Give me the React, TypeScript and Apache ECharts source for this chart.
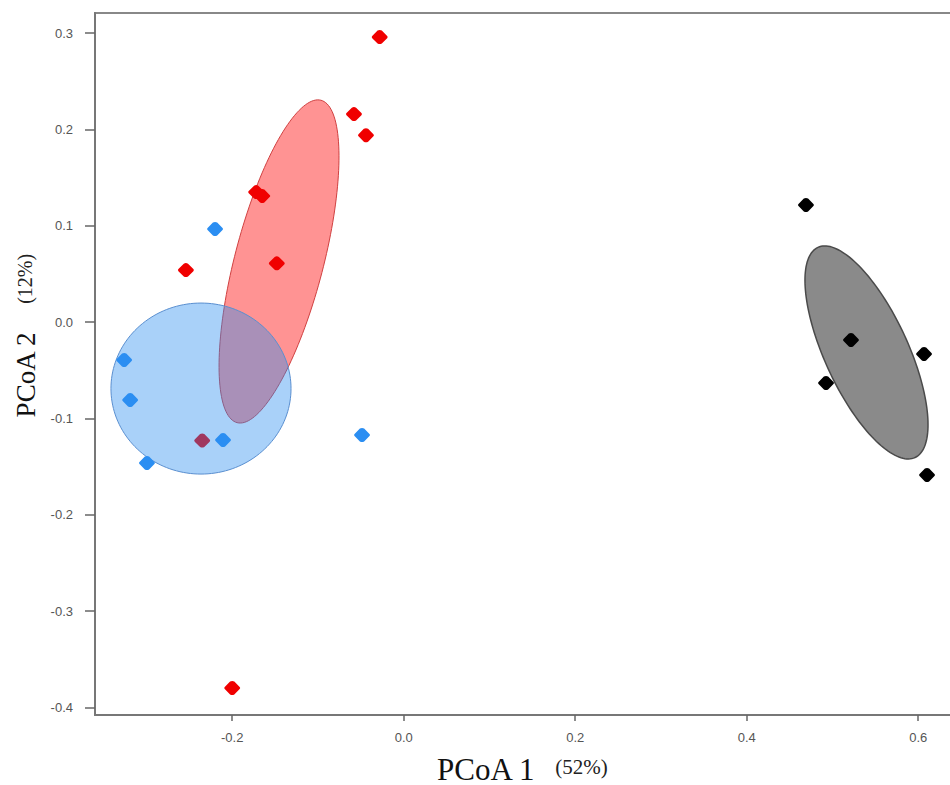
import React, { useEffect, useRef } from "react";
import * as echarts from "echarts";

// ---- data ----
const redX = [-0.028, -0.058, -0.044, -0.172, -0.165, -0.148, -0.254, -0.2, -0.235];
const redY = [0.296, 0.216, 0.194, 0.135, 0.131, 0.061, 0.054, -0.38, -0.123];
const blueX = [-0.22, -0.326, -0.319, -0.2107, -0.2994, -0.0486];
const blueY = [0.0967, -0.0393, -0.0809, -0.1224, -0.1463, -0.1172];
const blackX = [0.4691, 0.5216, 0.6068, 0.4925, 0.6103];
const blackY = [0.1216, -0.0186, -0.0331, -0.0632, -0.1588];

// ellipses: [centerX, centerY, semiAxisU_x, semiAxisU_y, semiAxisV_x, semiAxisV_y] in data units
const redEllipse = [-0.1454, 0.063, 0.0489, 0.1674, 0.05, -0.0116];
const blueEllipse = [-0.2364, -0.069, 0.105, 0, 0, 0.0888];
const grayEllipse = [0.5397, -0.0315, 0.0566, -0.1091, 0.0441, 0.0181];

const xTicks = [-0.2, 0.0, 0.2, 0.4, 0.6];
const yTicks = [-0.4, -0.3, -0.2, -0.1, 0.0, 0.1, 0.2, 0.3];

const xTitle = "PCoA 1";
const xPct = "(52%)";
const yTitle = "PCoA 2";
const yPct = "(12%)";

const SYMBOL =
  "path://M-2,-6 Q0,-7 2,-6 L7,-1 Q8,0 7,1 L2,6 Q0,7 -2,6 L-7,1 Q-8,0 -7,-1 Z";

function zip(xs: number[], ys: number[]) {
  return xs.map((x, i) => [x, ys[i]]);
}

function ellipseSeries(params: number[], fill: string, stroke: string, lw: number, z: number) {
  return {
    type: "custom",
    z,
    data: [params],
    encode: { x: 0, y: 1 },
    silent: true,
    renderItem: (_p: any, api: any) => {
      const cx = api.value(0), cy = api.value(1);
      const ux = api.value(2), uy = api.value(3);
      const vx = api.value(4), vy = api.value(5);
      const pts: number[][] = [];
      const N = 160;
      for (let i = 0; i < N; i++) {
        const t = (i / N) * Math.PI * 2;
        const c = Math.cos(t), s = Math.sin(t);
        pts.push(api.coord([cx + ux * c + vx * s, cy + uy * c + vy * s]));
      }
      return {
        type: "polygon",
        shape: { points: pts },
        style: { fill, stroke, lineWidth: lw },
      };
    },
  };
}

function pointSeries(xs: number[], ys: number[], color: string, z: number) {
  return {
    type: "scatter",
    z,
    data: zip(xs, ys),
    symbol: SYMBOL,
    symbolSize: [16, 14],
    itemStyle: { color, opacity: 1 },
  };
}

export default function App() {
  const ref = useRef<HTMLDivElement>(null);
  useEffect(() => {
    if (!ref.current) return;
    const chart = echarts.init(ref.current, null, { renderer: "svg" });
    const axisColor = "#777";
    const labelStyle = {
      color: "#555",
      fontSize: 13,
      fontFamily: "Liberation Sans, Arial, sans-serif",
    };
    const serif = "Liberation Serif, Times New Roman, serif";
    chart.setOption({
      animation: false,
      backgroundColor: "#fff",
      grid: {
        left: 95,
        top: 13,
        width: 857.5,
        height: 702,
        show: true,
        borderColor: "#888",
        borderWidth: 2,
        containLabel: false,
        outerBoundsMode: "none",
      },
      xAxis: {
        type: "value",
        min: -0.36,
        max: 0.64,
        axisLine: { show: true, onZero: false, lineStyle: { color: axisColor, width: 2 } },
        axisTick: {
          show: true,
          length: 6,
          customValues: xTicks,
          lineStyle: { color: "#666", width: 1.5 },
        },
        axisLabel: {
          ...labelStyle,
          margin: 16,
          customValues: xTicks,
          formatter: (v: number) => v.toFixed(1),
        },
        splitLine: { show: false },
      },
      yAxis: {
        type: "value",
        min: -0.408,
        max: 0.321,
        axisLine: { show: true, onZero: false, lineStyle: { color: axisColor, width: 2 } },
        axisTick: {
          show: true,
          length: 10,
          customValues: yTicks,
          lineStyle: { color: "#666", width: 1.5 },
        },
        axisLabel: {
          ...labelStyle,
          margin: 22,
          customValues: yTicks,
          formatter: (v: number) => v.toFixed(1),
        },
        splitLine: { show: false },
      },
      graphic: [
        {
          type: "text",
          x: 522,
          y: 769,
          style: {
            text: `{a|${xTitle}}{b|${xPct}}`,
            align: "center",
            verticalAlign: "middle",
            rich: {
              a: { fontFamily: serif, fontSize: 31, fill: "#111" },
              b: {
                fontFamily: serif,
                fontSize: 21,
                fill: "#222",
                padding: [0, 0, 4, 20],
              },
            },
          },
        },
        {
          type: "text",
          x: 26,
          y: 336,
          rotation: Math.PI / 2,
          style: {
            text: `{a|${yTitle}}{b|${yPct}}`,
            align: "center",
            verticalAlign: "middle",
            rich: {
              a: { fontFamily: serif, fontSize: 27, fill: "#111" },
              b: {
                fontFamily: serif,
                fontSize: 20,
                fill: "#222",
                padding: [0, 0, 3, 28],
              },
            },
          },
        },
      ],
      series: [
        ellipseSeries(redEllipse, "rgba(255,40,40,0.5)", "#d04040", 1, 1),
        pointSeries(redX, redY, "#f00000", 2),
        ellipseSeries(blueEllipse, "rgba(40,140,240,0.4)", "#5a8fd0", 1, 3),
        pointSeries(blueX, blueY, "#2b8ef2", 4),
        ellipseSeries(grayEllipse, "#8a8a8a", "#4a4a4a", 1.5, 5),
        pointSeries(blackX, blackY, "#000000", 6),
      ],
    });
    return () => chart.dispose();
  }, []);
  return (
    <div
      ref={ref}
      style={{ position: "fixed", left: 0, top: 0, width: 950, height: 785 }}
    />
  );
}
